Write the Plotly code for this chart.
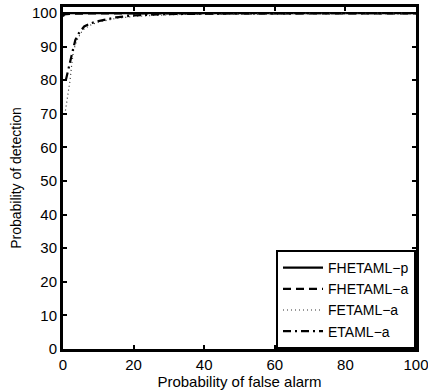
import plotly.graph_objects as go

# Data
x_fhetaml_p = [0, 0.3, 1, 5, 20, 50, 100]
y_fhetaml_p = [99.3, 99.9, 100, 100, 100, 100, 100]

x_fhetaml_a = [0, 0.3, 1, 3, 10, 30, 100]
y_fhetaml_a = [99.0, 99.5, 99.7, 99.8, 99.9, 99.9, 99.9]

x_fetaml_a = [0.7, 1, 1.5, 2, 2.5, 3, 4, 5, 6, 8, 10, 15, 20, 30, 50, 100]
y_fetaml_a = [71, 73, 77, 80, 85, 89, 92, 94, 95.3, 96.5, 97.3, 98.4, 99.0, 99.5, 99.8, 100]

x_etaml_a = [0.8, 1.2, 1.6, 2, 2.8, 3.5, 4.5, 6, 8, 10, 15, 20, 30, 50, 100]
y_etaml_a = [80, 82, 84, 86, 89, 92, 94, 96, 97, 97.6, 98.7, 99.3, 99.7, 99.9, 100]

x_ticks = [0, 20, 40, 60, 80, 100]
y_ticks = [0, 10, 20, 30, 40, 50, 60, 70, 80, 90, 100]

FONT = "Liberation Sans, Arial, Helvetica"

fig = go.Figure()
lw = 2.2
fig.add_trace(go.Scatter(x=x_fhetaml_p, y=y_fhetaml_p, mode="lines", name="FHETAML−p",
                         line=dict(color="black", width=lw)))
fig.add_trace(go.Scatter(x=x_fhetaml_a, y=y_fhetaml_a, mode="lines", name="FHETAML−a",
                         line=dict(color="black", width=lw, dash="8px,5px")))
fig.add_trace(go.Scatter(x=x_fetaml_a, y=y_fetaml_a, mode="lines", name="FETAML−a",
                         line=dict(color="#333333", width=1.2, dash="1px,3px")))
fig.add_trace(go.Scatter(x=x_etaml_a, y=y_etaml_a, mode="lines", name="ETAML−a",
                         line=dict(color="black", width=lw, dash="8px,4px,2px,4px")))

axis_common = dict(showgrid=False, zeroline=False, showline=True, linecolor="black",
                   linewidth=3, mirror="ticks", ticks="inside", ticklen=4, tickwidth=1.5,
                   tickcolor="black", automargin=False, ticklabeloverflow="allow",
                   tickfont=dict(family=FONT, size=15, color="black"))

fig.update_layout(
    width=428, height=392,
    margin=dict(l=63, r=12, t=7, b=43),
    paper_bgcolor="white", plot_bgcolor="white",
    font=dict(family=FONT, size=15, color="black"),
    xaxis=dict(range=[0, 100], tickvals=x_ticks,
               title=dict(text="Probability of false alarm", standoff=0,
                          font=dict(size=15)), **axis_common),
    yaxis=dict(range=[0, 101.8], tickvals=y_ticks,
               title=dict(text="Probability of detection", standoff=8,
                          font=dict(size=14)), **axis_common),
    legend=dict(x=1, y=0, xanchor="right", yanchor="bottom",
                bgcolor="white", bordercolor="black", borderwidth=2,
                font=dict(size=14), tracegroupgap=0, itemwidth=40),
    showlegend=True,
)

fig.write_html("out.html", config={"displayModeBar": False},
               post_script="document.body.style.margin='0px';document.body.style.padding='0px';")
